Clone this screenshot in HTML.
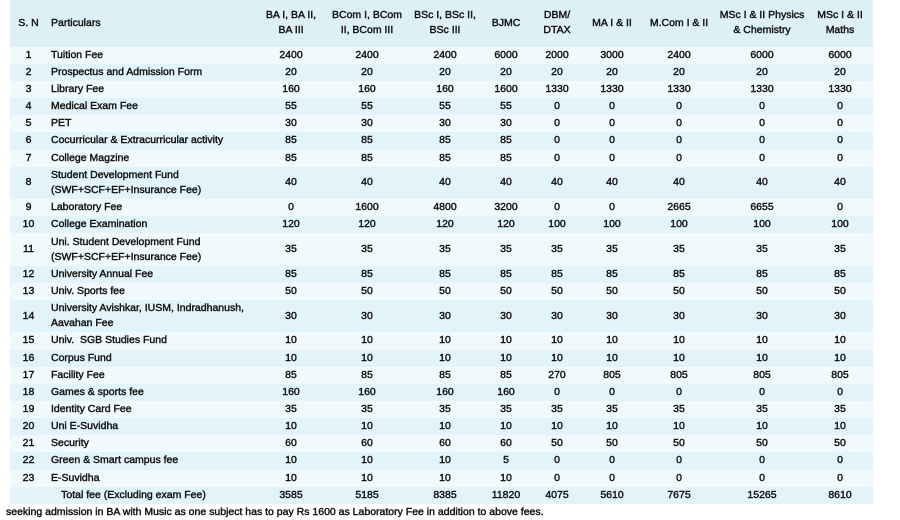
<!DOCTYPE html>
<html>
<head>
<meta charset="utf-8">
<style>
  html, body { margin:0; padding:0; background:#ffffff; }
  body { width:900px; height:510px; overflow:hidden; position:relative;
         font-family:"Liberation Sans", Arial, sans-serif; font-size:10.5px; color:#161616;
         -webkit-text-stroke:0.45px #161616; }
  .tbl { position:absolute; left:10px; top:0; width:863px; }
  .row { display:grid;
         grid-template-columns: 37px 210px 68px 84px 72px 50px 52px 58px 76px 90px 66px; }
  .row > div { display:flex; align-items:center; justify-content:center; text-align:center;
               line-height:15px; white-space:nowrap; }
  .row > div.p { justify-content:flex-start; text-align:left; padding-left:4px; }
  .hd { height:46.7px; background:#ddf0f6; }
  .s { height:17.15px; }
  .d { height:32.4px; }
  .lt { background:#f0f9fc; }
  .dk { background:#e2f4f9; }
  .span2 { grid-column: span 2; }
  .foot { position:absolute; left:6px; top:505px; line-height:15px; white-space:nowrap; }
</style>
</head>
<body>
<div class="tbl">
  <div class="row hd">
    <div>S. N</div><div class="p">Particulars</div>
    <div>BA I, BA II,<br>BA III</div>
    <div>BCom I, BCom<br>II, BCom III</div>
    <div>BSc I, BSc II,<br>BSc III</div>
    <div>BJMC</div>
    <div>DBM/<br>DTAX</div>
    <div>MA I &amp; II</div>
    <div>M.Com I &amp; II</div>
    <div>MSc I &amp; II Physics<br>&amp; Chemistry</div>
    <div>MSc I &amp; II<br>Maths</div>
  </div>
  <div class="row s lt"><div>1</div><div class="p">Tuition Fee</div><div>2400</div><div>2400</div><div>2400</div><div>6000</div><div>2000</div><div>3000</div><div>2400</div><div>6000</div><div>6000</div></div>
  <div class="row s dk"><div>2</div><div class="p">Prospectus and Admission Form</div><div>20</div><div>20</div><div>20</div><div>20</div><div>20</div><div>20</div><div>20</div><div>20</div><div>20</div></div>
  <div class="row s lt"><div>3</div><div class="p">Library Fee</div><div>160</div><div>160</div><div>160</div><div>1600</div><div>1330</div><div>1330</div><div>1330</div><div>1330</div><div>1330</div></div>
  <div class="row s dk"><div>4</div><div class="p">Medical Exam Fee</div><div>55</div><div>55</div><div>55</div><div>55</div><div>0</div><div>0</div><div>0</div><div>0</div><div>0</div></div>
  <div class="row s lt"><div>5</div><div class="p">PET</div><div>30</div><div>30</div><div>30</div><div>30</div><div>0</div><div>0</div><div>0</div><div>0</div><div>0</div></div>
  <div class="row s dk"><div>6</div><div class="p">Cocurricular &amp; Extracurricular activity</div><div>85</div><div>85</div><div>85</div><div>85</div><div>0</div><div>0</div><div>0</div><div>0</div><div>0</div></div>
  <div class="row s lt"><div>7</div><div class="p">College Magzine</div><div>85</div><div>85</div><div>85</div><div>85</div><div>0</div><div>0</div><div>0</div><div>0</div><div>0</div></div>
  <div class="row d dk"><div>8</div><div class="p">Student Development Fund<br>(SWF+SCF+EF+Insurance Fee)</div><div>40</div><div>40</div><div>40</div><div>40</div><div>40</div><div>40</div><div>40</div><div>40</div><div>40</div></div>
  <div class="row s lt"><div>9</div><div class="p">Laboratory Fee</div><div>0</div><div>1600</div><div>4800</div><div>3200</div><div>0</div><div>0</div><div>2665</div><div>6655</div><div>0</div></div>
  <div class="row s dk"><div>10</div><div class="p">College Examination</div><div>120</div><div>120</div><div>120</div><div>120</div><div>100</div><div>100</div><div>100</div><div>100</div><div>100</div></div>
  <div class="row d lt"><div>11</div><div class="p">Uni. Student Development Fund<br>(SWF+SCF+EF+Insurance Fee)</div><div>35</div><div>35</div><div>35</div><div>35</div><div>35</div><div>35</div><div>35</div><div>35</div><div>35</div></div>
  <div class="row s dk"><div>12</div><div class="p">University Annual Fee</div><div>85</div><div>85</div><div>85</div><div>85</div><div>85</div><div>85</div><div>85</div><div>85</div><div>85</div></div>
  <div class="row s lt"><div>13</div><div class="p">Univ. Sports fee</div><div>50</div><div>50</div><div>50</div><div>50</div><div>50</div><div>50</div><div>50</div><div>50</div><div>50</div></div>
  <div class="row d dk"><div>14</div><div class="p">University Avishkar, IUSM, Indradhanush,<br>Aavahan Fee</div><div>30</div><div>30</div><div>30</div><div>30</div><div>30</div><div>30</div><div>30</div><div>30</div><div>30</div></div>
  <div class="row s lt"><div>15</div><div class="p">Univ.&nbsp; SGB Studies Fund</div><div>10</div><div>10</div><div>10</div><div>10</div><div>10</div><div>10</div><div>10</div><div>10</div><div>10</div></div>
  <div class="row s dk"><div>16</div><div class="p">Corpus Fund</div><div>10</div><div>10</div><div>10</div><div>10</div><div>10</div><div>10</div><div>10</div><div>10</div><div>10</div></div>
  <div class="row s lt"><div>17</div><div class="p">Facility Fee</div><div>85</div><div>85</div><div>85</div><div>85</div><div>270</div><div>805</div><div>805</div><div>805</div><div>805</div></div>
  <div class="row s dk"><div>18</div><div class="p">Games &amp; sports fee</div><div>160</div><div>160</div><div>160</div><div>160</div><div>0</div><div>0</div><div>0</div><div>0</div><div>0</div></div>
  <div class="row s lt"><div>19</div><div class="p">Identity Card Fee</div><div>35</div><div>35</div><div>35</div><div>35</div><div>35</div><div>35</div><div>35</div><div>35</div><div>35</div></div>
  <div class="row s dk"><div>20</div><div class="p">Uni E-Suvidha</div><div>10</div><div>10</div><div>10</div><div>10</div><div>10</div><div>10</div><div>10</div><div>10</div><div>10</div></div>
  <div class="row s lt"><div>21</div><div class="p">Security</div><div>60</div><div>60</div><div>60</div><div>60</div><div>50</div><div>50</div><div>50</div><div>50</div><div>50</div></div>
  <div class="row s dk"><div>22</div><div class="p">Green &amp; Smart campus fee</div><div>10</div><div>10</div><div>10</div><div>5</div><div>0</div><div>0</div><div>0</div><div>0</div><div>0</div></div>
  <div class="row s lt"><div>23</div><div class="p">E-Suvidha</div><div>10</div><div>10</div><div>10</div><div>10</div><div>0</div><div>0</div><div>0</div><div>0</div><div>0</div></div>
  <div class="row s dk"><div class="span2">Total fee (Excluding exam Fee)</div><div>3585</div><div>5185</div><div>8385</div><div>11820</div><div>4075</div><div>5610</div><div>7675</div><div>15265</div><div>8610</div></div>
</div>
<div class="foot">seeking admission in BA with Music as one subject has to pay Rs 1600 as Laboratory Fee in addition to above fees.</div>
</body>
</html>
